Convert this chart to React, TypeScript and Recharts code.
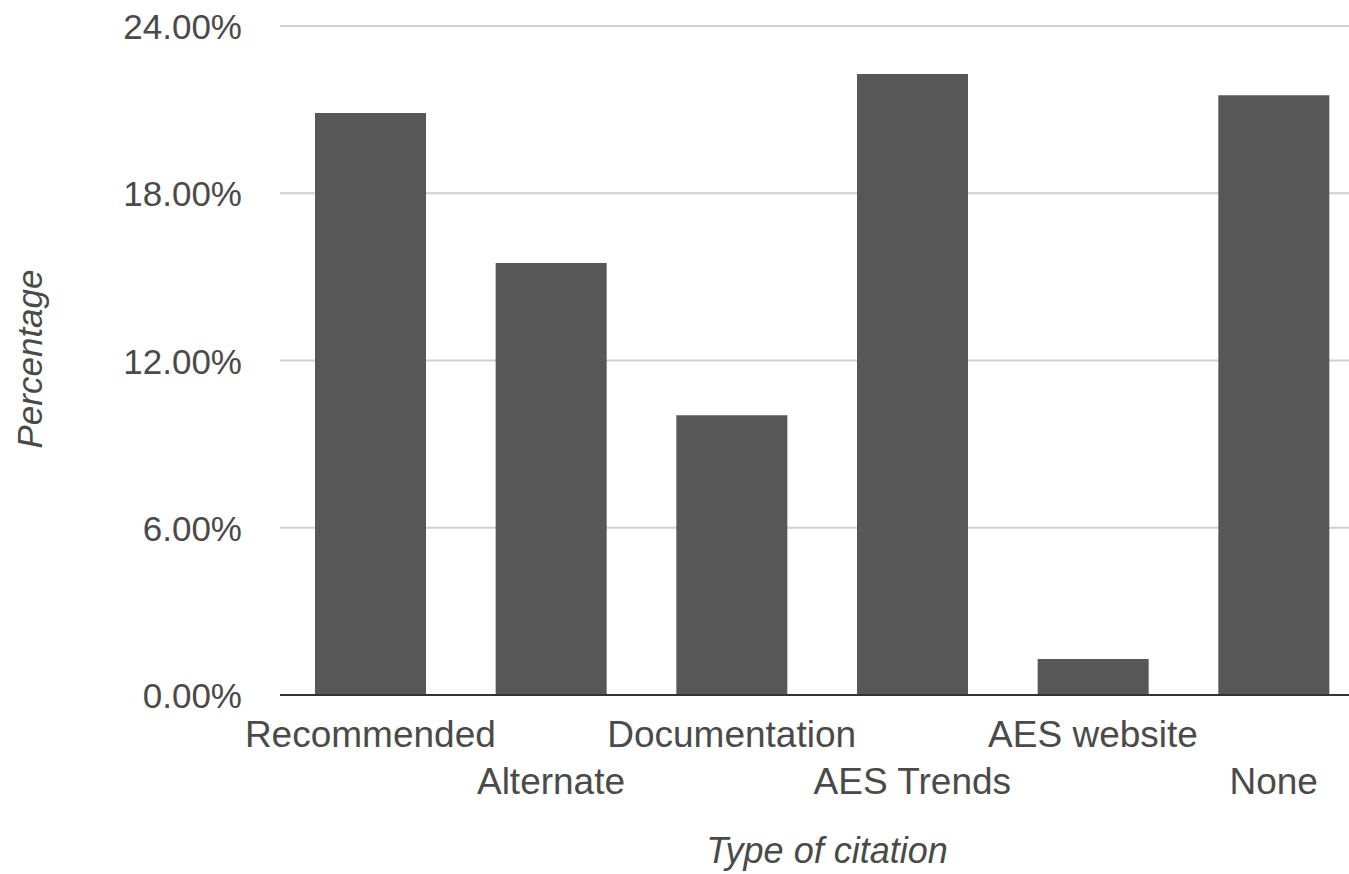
import React from 'react';
import { BarChart, Bar, XAxis, YAxis, CartesianGrid, Label } from 'recharts';

const categories = ['Recommended', 'Alternate', 'Documentation', 'AES Trends', 'AES website', 'None'];
const percentages = [20.88, 15.5, 10.04, 22.28, 1.29, 21.52];
const yTicks = [0, 6, 12, 18, 24];

const data = categories.map((c, i) => ({ name: c, value: percentages[i] }));

const FONT = '"Liberation Sans", Arial, sans-serif';
const TEXT = '#4a4a4a';

const XTick = (props: any) => {
  const { x, payload, index } = props;
  const baseY = 695;
  const dy = index % 2 === 0 ? 52 : 99;
  return (
    <text x={x} y={baseY + dy} textAnchor="middle" fontSize={37} fill={TEXT} fontFamily={FONT}>
      {payload.value}
    </text>
  );
};

const YTick = (props: any) => {
  const { y, payload } = props;
  return (
    <text x={280 - 38} y={y + 13} textAnchor="end" fontSize={35} fill={TEXT} fontFamily={FONT}>
      {Number(payload.value).toFixed(2) + '%'}
    </text>
  );
};

export default function App() {
  return (
    <div style={{ position: 'absolute', left: 0, top: 0, width: 1349, height: 874, overflow: 'hidden', background: '#fff' }}>
      <BarChart width={1364} height={874} data={data} margin={{ top: 26, right: 0, bottom: 0, left: 0 }}>
        <CartesianGrid vertical={false} stroke="#d0d0d0" strokeWidth={2} />
        <XAxis
          dataKey="name"
          height={179}
          tickLine={false}
          axisLine={{ stroke: '#333333', strokeWidth: 2 }}
          tick={<XTick />}
          interval={0}
        >
          <Label
            content={(p: any) => (
              <text x={827} y={863} textAnchor="middle" fontSize={36} fontStyle="italic" fill={TEXT} fontFamily={FONT}>
                Type of citation
              </text>
            )}
          />
        </XAxis>
        <YAxis
          width={280}
          domain={[0, 24]}
          ticks={yTicks}
          tickLine={false}
          axisLine={false}
          tick={<YTick />}
          interval={0}
        >
          <Label
            content={(p: any) => (
              <text
                x={42}
                y={359}
                transform="rotate(-90, 42, 359)"
                textAnchor="middle"
                fontSize={35}
                fontStyle="italic"
                fill={TEXT}
                fontFamily={FONT}
              >
                Percentage
              </text>
            )}
          />
        </YAxis>
        <Bar dataKey="value" fill="#575757" barSize={111} isAnimationActive={false} />
      </BarChart>
    </div>
  );
}
